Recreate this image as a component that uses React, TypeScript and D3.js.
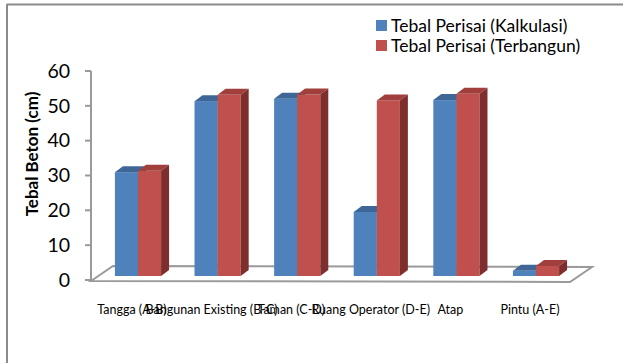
import React from "react";
import * as d3 from "d3";

const categories = ["Tangga (A-B)", "Bangunan Existing (B-C)", "Taman (C-D)", "Ruang Operator (D-E)", "Atap", "Pintu (A-E)"];
const kalkulasi = [29.8, 50.2, 50.9, 18.4, 50.5, 1.5];
const terbangun = [30.2, 52.0, 52.1, 50.4, 52.3, 2.9];
const seriesNames = ["Tebal Perisai (Kalkulasi)", "Tebal Perisai (Terbangun)"];
const yTicks = [0, 10, 20, 30, 40, 50, 60];

const W = 623, H = 363;
const FONT = "Lato, 'Open Sans', sans-serif";
const colors = [
  { front: "#4F81BD", top: "#3E6797", side: "#385D8A" },
  { front: "#C0504D", top: "#A03F3C", side: "#7E2F2D" },
];

export default function App() {
  const axisX = 91;
  const yAxis = d3.scaleLinear().domain([0, 60]).range([280, 71]);
  const yBar = d3.scaleLinear().domain([0, 60]).range([276, 67]);
  const x = d3.scaleBand<string>().domain(categories).range([98.2, 575.8]).paddingInner(0.42).paddingOuter(0.21);
  const bw = x.bandwidth() / 2;
  const dx = 8, dy = -6;
  const base = yBar(0);
  const fdx = 22, fdy = -15;
  const floorFrontL: [number, number] = [axisX, yAxis(0) + 1];
  const floorFrontR: [number, number] = [570, yAxis(0) + 2];
  const floor = [floorFrontL, [floorFrontL[0] + fdx, floorFrontL[1] + fdy], [floorFrontR[0] + fdx, floorFrontR[1] + fdy], floorFrontR];
  const series = [kalkulasi, terbangun];

  return (
    <svg width={W} height={H} style={{ position: "absolute", left: 0, top: 0, background: "#fff" }}>
      <rect x={0} y={0} width={W} height={H} fill="#fff" />
      <line x1={7} y1={4.5} x2={W} y2={4.5} stroke="#8a8a8a" strokeWidth={2} />
      <line x1={7} y1={4} x2={7} y2={H} stroke="#8a8a8a" strokeWidth={2} />
      {/* floor */}
      <polygon points={floor.map((p) => p.join(",")).join(" ")} fill="none" stroke="#9a9a9a" strokeWidth={2} />
      {/* y axis */}
      <line x1={axisX} y1={yAxis(60)} x2={axisX} y2={yAxis(0)} stroke="#9a9a9a" strokeWidth={2} />
      {yTicks.map((t) => (
        <g key={t}>
          <line x1={axisX - 6} x2={axisX} y1={yAxis(t)} y2={yAxis(t)} stroke="#9a9a9a" strokeWidth={2} />
          <text x={70} y={yAxis(t)} dy="0.35em" textAnchor="end" fontFamily={FONT} fontSize={19.5} fill="#000">{t}</text>
        </g>
      ))}
      <text transform={`translate(32,154) rotate(-90)`} textAnchor="middle" dy="0.35em" fontFamily={FONT} fontWeight="bold" fontSize={17} fill="#000">Tebal Beton (cm)</text>
      {/* bars */}
      {categories.map((c, i) => (
        <g key={c}>
          {series.map((s, k) => {
            const x0 = (x(c) as number) + k * bw;
            const y0 = yBar(s[i]);
            const col = colors[k];
            return (
              <g key={k}>
                <rect x={x0} y={y0} width={bw} height={base - y0} fill={col.front} />
                <polygon points={`${x0},${y0} ${x0 + dx},${y0 + dy} ${x0 + bw + dx},${y0 + dy} ${x0 + bw},${y0}`} fill={col.top} />
                <polygon points={`${x0 + bw},${y0} ${x0 + bw + dx},${y0 + dy} ${x0 + bw + dx},${base + dy} ${x0 + bw},${base}`} fill={col.side} />
              </g>
            );
          })}
        </g>
      ))}
      {categories.map((c) => (
        <text key={c} x={(x(c) as number) + x.bandwidth() / 2 - 6} y={310} dy="0.35em" textAnchor="middle" fontFamily={FONT} fontSize={12.5} fill="#000">{c}</text>
      ))}
      {/* legend */}
      {seriesNames.map((n, k) => (
        <g key={n}>
          <rect x={376} y={20 + k * 20} width={11} height={11} fill={colors[k].front} />
          <text x={391} y={25.5 + k * 20} dy="0.35em" fontFamily={FONT} fontSize={17.5} fill="#000">{n}</text>
        </g>
      ))}
    </svg>
  );
}
